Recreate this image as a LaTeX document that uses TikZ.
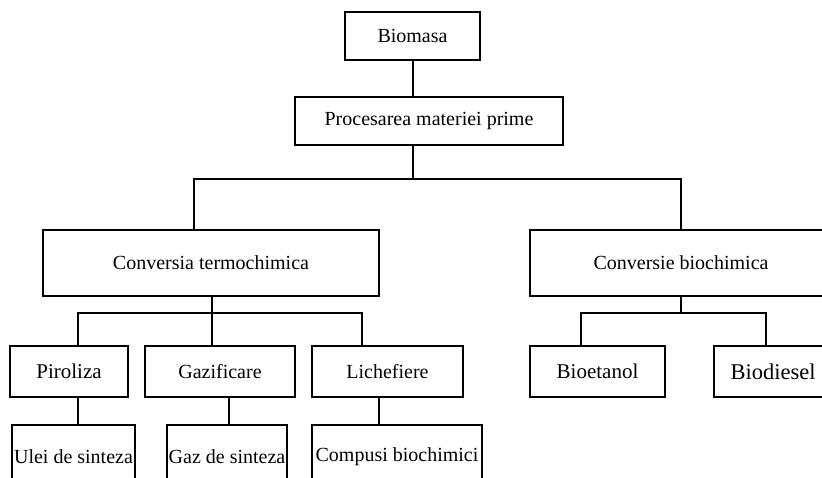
\documentclass[tikz,border=0pt]{standalone}
\usepackage{fontspec}
\setmainfont{Liberation Serif}
\begin{document}
\begin{tikzpicture}[x=1pt,y=-1pt,
  box/.style={draw=black,line width=1.1pt,inner sep=0pt,font=\fontsize{20}{24}\selectfont,anchor=center},
  conn/.style={draw=black,line width=1.1pt}]
\useasboundingbox (0,0) rectangle (822,477);
\clip (0,0) rectangle (822,477);
\fill[white] (0,0) rectangle (822,477);
% nodes
\node[box,minimum width=135pt,minimum height=48pt] (bm) at (412.5,36) {Biomasa};
\node[box,minimum width=268pt,minimum height=48pt] (pm) at (429,121) {Procesarea materiei prime};
\node[box,minimum width=336pt,minimum height=66pt] (ct) at (211,263) {Conversia termochimica};
\node[box,minimum width=302pt,minimum height=66pt] (cb) at (681,263) {Conversie biochimica};
\node[box,minimum width=118pt,minimum height=51pt,font=\fontsize{21}{25}\selectfont] (pi) at (69,371.5) {Piroliza};
\node[box,minimum width=150pt,minimum height=51pt] (gz) at (220,371.5) {Gazificare};
\node[box,minimum width=151pt,minimum height=51pt] (li) at (387.5,371.5) {Lichefiere};
\node[box,minimum width=135pt,minimum height=51pt,font=\fontsize{21}{25}\selectfont] (be) at (597.5,371.5) {Bioetanol};
\node[box,minimum width=118pt,minimum height=51pt,font=\fontsize{22.5}{27}\selectfont] (bd) at (773,371.5) {Biodiesel};
\node[box,minimum width=123pt,minimum height=64pt] (ul) at (73.5,457) {Ulei de sinteza};
\node[box,minimum width=120pt,minimum height=64pt] (gs) at (227,457) {Gaz de sinteza};
\node[box,minimum width=170pt,minimum height=64pt] (cp) at (397,457) {Compusi biochimici};
% junction coordinates
\coordinate (j1) at (413,179);
\coordinate (j1l) at (194,179);
\coordinate (j1r) at (681,179);
\coordinate (j2) at (212,313);
\coordinate (j2l) at (78,313);
\coordinate (j2r) at (362,313);
\coordinate (j3) at (681,313);
\coordinate (j3l) at (581,313);
\coordinate (j3r) at (766,313);
\coordinate (x4) at (229,0);
\coordinate (x5) at (379,0);
% connectors
\draw[conn] (bm.south -| j1) -- (pm.north -| j1);
\draw[conn] (pm.south -| j1) -- (j1);
\draw[conn] (ct.north -| j1l) -- (j1l) -- (j1r) -- (cb.north -| j1r);
\draw[conn] (ct.south -| j2) -- (j2);
\draw[conn] (pi.north -| j2l) -- (j2l) -- (j2r) -- (li.north -| j2r);
\draw[conn] (j2) -- (gz.north -| j2);
\draw[conn] (cb.south -| j3) -- (j3);
\draw[conn] (be.north -| j3l) -- (j3l) -- (j3r) -- (bd.north -| j3r);
\draw[conn] (pi.south -| j2l) -- (ul.north -| j2l);
\draw[conn] (gz.south -| x4) -- (gs.north -| x4);
\draw[conn] (li.south -| x5) -- (cp.north -| x5);
\end{tikzpicture}
\end{document}
